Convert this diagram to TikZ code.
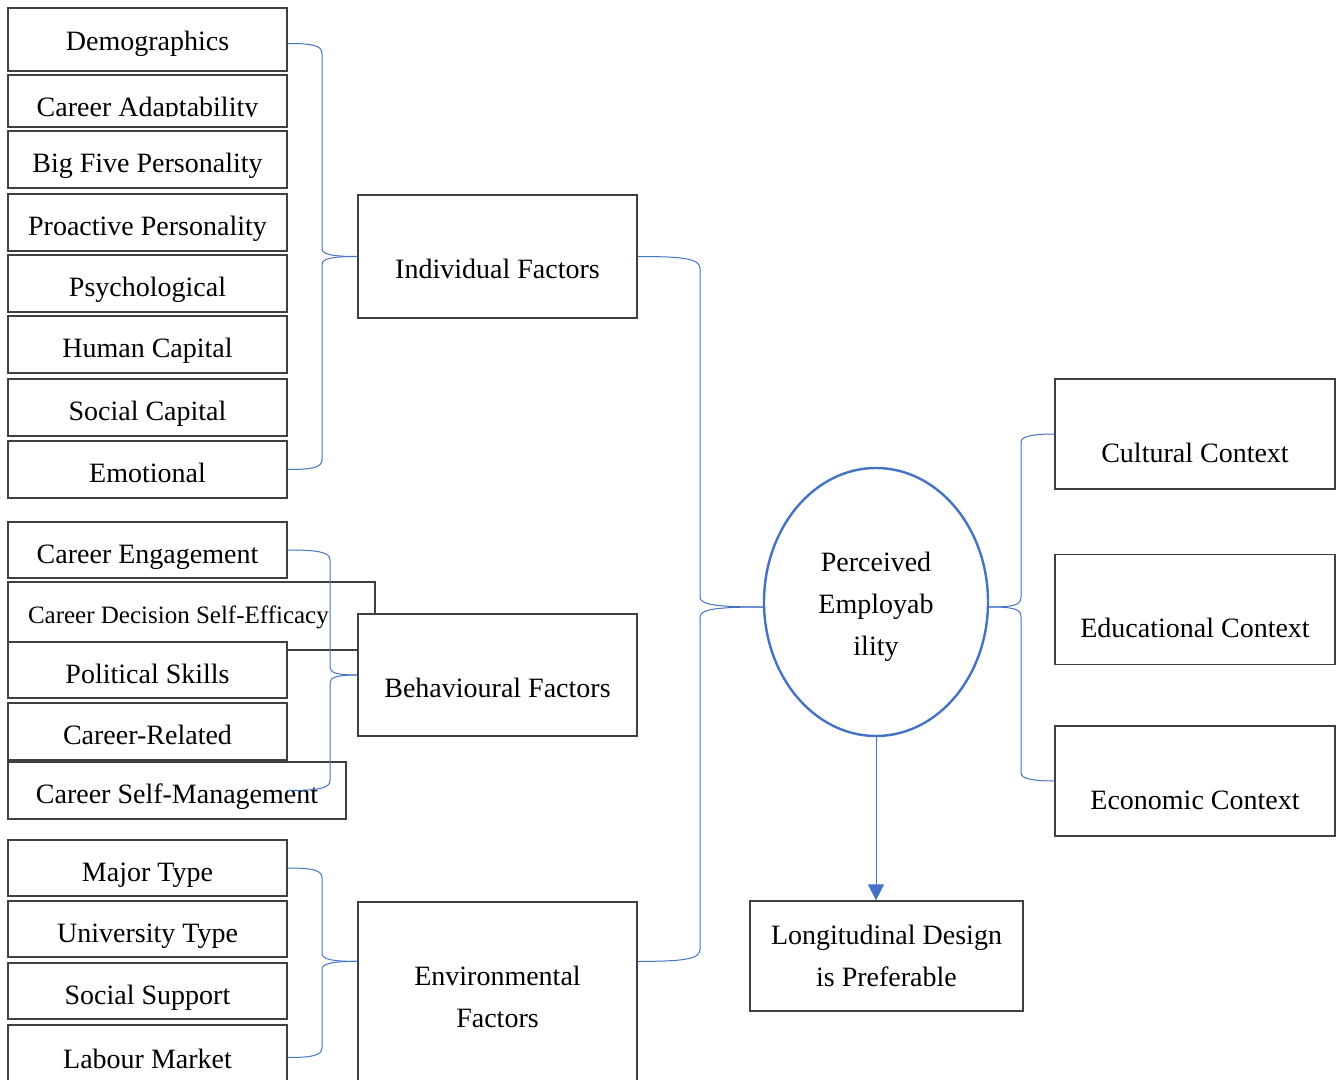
\documentclass[tikz,border=0pt]{standalone}
\usepackage{fontspec}
\setmainfont{Liberation Serif}
\usetikzlibrary{shapes.geometric,arrows.meta,calc}
\definecolor{sininen}{HTML}{4472C4}

\begin{document}
\begin{tikzpicture}[x=0.5pt, y=-0.5pt,
		every node/.style = {font=\fontsize{14}{21}\selectfont},
		box/.style = {draw=black!75, line width=0.6pt, fill=white, minimum width=139.5pt, inner sep=0pt},
		txt/.style = {text height=16pt, text depth=3pt, inner sep=0pt},
		item/.style = {box, txt, minimum height=28.5pt},
		group/.style = {box, text height=25.5pt, text depth=3pt, minimum height=61.5pt},
		ctx/.style = {box, minimum width=140pt, minimum height=55pt, text height=31pt, text depth=3pt},
		brace/.style = {draw=sininen, line width=0.5pt}]
		\useasboundingbox (0,0) rectangle (1338,1080);
		%Yksilo
		\node[item, minimum height=31.5pt, text height=14pt] (dem) at (147.5,39.5) {Demographics};
		\node[box, minimum height=26pt] (ca) at (147.5,101) {};
		\begin{scope}
			\clip (8,75) rectangle (287,117);
			\node[txt] (catxt) at (147.5,104) {Career Adaptability};
		\end{scope}
		\node[item] (bf) at (147.5,159.5) {Big Five Personality};
		\node[item] (pp) at (147.5,222.5) {Proactive Personality};
		\node[item] (psy) at (147.5,283.5) {Psychological};
		\node[item] (hc) at (147.5,344.5) {Human Capital};
		\node[item] (sc) at (147.5,407.5) {Social Capital};
		\node[item] (emo) at (147.5,469.5) {Emotional};
		\node[group] (ind) at (497.5,256.5) {Individual Factors};
		%Kayttaytyminen
		\node[item, minimum height=28pt] (ce) at (147.5,550) {Career Engagement};
		\node[box, minimum width=183.5pt, minimum height=34pt, text width=163.5pt, align=flush left, inner xsep=10pt,
			text height=10pt, text depth=3pt, font=\fontsize{12.5}{15}\selectfont] (cdse) at (191.5,616) {Career Decision Self-Efficacy};
		\node[item, minimum height=28pt] (ps) at (147.5,670) {Political Skills};
		\node[item] (cr) at (147.5,731.5) {Career-Related};
		\node[item, minimum width=169pt] (csm) at (177,790.5) {Career Self-Management};
		\node[group, minimum height=61pt] (beh) at (497.5,675) {Behavioural Factors};
		%Ymparisto
		\node[item, minimum height=28pt] (mt) at (147.5,868) {Major Type};
		\node[item, minimum height=28pt] (ut) at (147.5,929) {University Type};
		\node[item, minimum height=28pt] (ss) at (147.5,991) {Social Support};
		\node[item, minimum height=32.5pt, text height=14pt] (lm) at (147.5,1057.5) {Labour Market};
		\node[box, minimum height=95pt, align=center] (env) at (497.5,997) {Environmental\\Factors};
		%Keskus
		\node[ellipse, draw=sininen, line width=1.2pt, minimum width=112pt, minimum height=134pt, inner sep=0pt] (pe) at (876,602) {};
		\node[align=center, inner sep=0pt] (petxt) at ([yshift=-2.5pt]pe.center) {Perceived\\Employab\\ility};
		\node[ctx] (cul) at (1195,434) {Cultural Context};
		\node[ctx] (edu) at (1195,609.5) {Educational Context};
		\node[ctx] (eco) at (1195,781) {Economic Context};
		\node[box, minimum width=136.5pt, minimum height=55pt, align=center] (long) at (886.5,956) {Longitudinal Design\\is Preferable};
		% Sulut
		\coordinate (armI) at (322,0);
		\coordinate (armB) at (330,0);
		\coordinate (armM) at (700,0);
		\coordinate (armR) at (1021,0);
		\coordinate (demR) at ([yshift=-2pt]dem.east);
		\coordinate (envL) at ($(env.north west)+(0,60)$);
		\coordinate (envR) at ($(env.north east)+(0,60)$);
		\coordinate (peL) at ([yshift=-2.5pt]pe.west);
		\coordinate (peR) at ([yshift=-2.5pt]pe.east);
		\draw[brace] (demR) .. controls +(25,0) and +(0,-8) .. ($(demR -| armI)+(0,10)$) -- ($(ind.west -| armI)+(0,-8)$) .. controls +(0,6) and +(-25,0) .. (ind.west);	% dem-ind
		\draw[brace] (emo.east) .. controls +(25,0) and +(0,8) .. ($(emo.east -| armI)+(0,-10)$) -- ($(ind.west -| armI)+(0,8)$) .. controls +(0,-6) and +(-25,0) .. (ind.west);	% emo-ind
		\draw[brace] (ce.east) .. controls +(30,0) and +(0,-8) .. ($(ce.east -| armB)+(0,10)$) -- ($(beh.west -| armB)+(0,-8)$) .. controls +(0,6) and +(-20,0) .. (beh.west);	% ce-beh
		\draw[brace] (ce.east |- csm.east) .. controls +(30,0) and +(0,8) .. ($(csm.east -| armB)+(0,-10)$) -- ($(beh.west -| armB)+(0,8)$) .. controls +(0,-6) and +(-20,0) .. (beh.west);	% csm-beh
		\draw[brace] (mt.east) .. controls +(25,0) and +(0,-8) .. ($(mt.east -| armI)+(0,10)$) -- ($(envL -| armI)+(0,-8)$) .. controls +(0,6) and +(-25,0) .. (envL);	% mt-env
		\draw[brace] (lm.east) .. controls +(25,0) and +(0,8) .. ($(lm.east -| armI)+(0,-10)$) -- ($(envL -| armI)+(0,8)$) .. controls +(0,-6) and +(-25,0) .. (envL);	% lm-env
		\draw[brace] (ind.east) .. controls +(45,0) and +(0,-10) .. ($(ind.east -| armM)+(0,12)$) -- ($(peL -| armM)+(0,-10)$) .. controls +(0,8) and +(-45,0) .. (peL);	% ind-pe
		\draw[brace] (envR) .. controls +(45,0) and +(0,10) .. ($(envR -| armM)+(0,-12)$) -- ($(peL -| armM)+(0,10)$) .. controls +(0,-8) and +(-45,0) .. (peL);	% env-pe
		\draw[brace] (peR) .. controls +(25,0) and +(0,8) .. ($(peR -| armR)+(0,-10)$) -- ($(cul.west -| armR)+(0,8)$) .. controls +(0,-6) and +(-20,0) .. (cul.west);	% pe-cul
		\draw[brace] (peR) .. controls +(25,0) and +(0,-8) .. ($(peR -| armR)+(0,10)$) -- ($(eco.west -| armR)+(0,-8)$) .. controls +(0,6) and +(-20,0) .. (eco.west);	% pe-eco
		\draw[brace, -{Triangle[width=8pt, length=8pt]}] (pe.south) -- (pe.south |- long.north);	% pe-long
		\end{tikzpicture}
\end{document}
